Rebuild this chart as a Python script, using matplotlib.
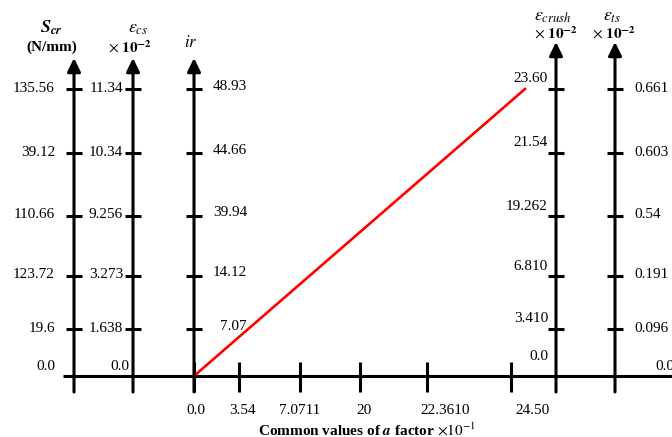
import matplotlib.pyplot as plt

plt.rcParams['font.family'] = 'Liberation Serif'
plt.rcParams['mathtext.fontset'] = 'stix'

# values on each scale, bottom to top
a_ticks = ['0.0', '3.54', '7.0711', '20', '22.3610', '24.50']
s_cr = ['0.0', '19.6', '123.72', '110.66', '39.12', '135.56']
eps_cs = ['0.0', '1.638', '3.273', '9.256', '10.34', '11.34']
ir_vals = ['', '7.07', '14.12', '39.94', '44.66', '48.93']
eps_crush = ['0.0', '3.410', '6.810', '19.262', '21.54', '23.60']
eps_ts = ['0.0', '0.096', '0.191', '0.54', '0.603', '0.661']

# layout (pixel frame of the drawing)
level_y = [376, 329, 276, 216, 153, 89]
base = level_y[0]
x_scr, x_cs, x_ir, x_crush, x_ts = 74, 133, 194, 556, 615
a_tick_x = [194, 239, 300, 360, 427, 511]
a_lab_dx = [2, 3, 0, 4, 18, 21]
red_end_x = 525

fig = plt.figure(figsize=(6.72, 4.37), dpi=100)
ax = fig.add_axes([0, 0, 1, 1])
ax.set_xlim(0, 672)
ax.set_ylim(437, 0)
ax.axis('off')

lw = 2.2
fs = 11

# horizontal axis
ax.plot([63, 672], [base, base], color='k', lw=lw, solid_capstyle='butt')
for x in a_tick_x:
    ax.plot([x, x], [base - 14, base + 16], color='k', lw=lw, solid_capstyle='butt')
for x, dx, t in zip(a_tick_x, a_lab_dx, a_ticks):
    ax.text(x + dx, 410, t, ha='center', va='center', fontsize=fs)

ax.text(367, 430, r'Common values of $\mathbfit{a}$ factor $\times\mathit{10^{-1}}$',
        ha='center', va='center', fontsize=fs, fontweight='bold')


def vaxis(x, top):
    ax.annotate('', xy=(x, top), xytext=(x, base + 16),
                arrowprops=dict(arrowstyle='-|>,head_length=0.45,head_width=0.22',
                                lw=lw, color='k', mutation_scale=18,
                                shrinkA=0, shrinkB=0))
    for y in level_y[1:]:
        ax.plot([x - 8, x + 8], [y, y], color='k', lw=lw, solid_capstyle='butt')


for x in [x_scr, x_cs, x_ir]:
    vaxis(x, 58)
for x in [x_crush, x_ts]:
    vaxis(x, 42)

# labels on the scales
for i, t in enumerate(s_cr):
    y = level_y[i] - (9 if i == 0 else 1)
    ax.text(55, y, t, ha='right', va='center', fontsize=fs)
for i, t in enumerate(eps_cs):
    y = level_y[i] - (9 if i == 0 else 1)
    ax.text(123 if i else 129, y, t, ha='right', va='center', fontsize=fs)
for i, t in enumerate(ir_vals):
    if t:
        ax.text(213 if i > 1 else 220, level_y[i] - 3, t, ha='left', va='center', fontsize=fs)
for i, t in enumerate(eps_crush):
    y = level_y[i] - (20 if i == 0 else 10)
    ax.text(548, y, t, ha='right', va='center', fontsize=fs)
for i, t in enumerate(eps_ts):
    y = level_y[i] - (10 if i == 0 else 1)
    ax.text(655 if i == 0 else 634, y, t, ha='left', va='center', fontsize=fs)

# scale titles
ax.text(51, 28, r'$\mathbfit{S}_{\mathbfit{cr}}$', ha='center', va='center', fontsize=13)
ax.text(52, 47, '(N/mm)', ha='center', va='center', fontsize=fs, fontweight='bold')
ax.text(138, 28, r'$\varepsilon_{cs}$', ha='center', va='center', fontsize=13)
ax.text(130, 47, r'$\times\ \mathbf{10^{-2}}$', ha='center', va='center', fontsize=fs)
ax.text(191, 43, r'$ir$', ha='center', va='center', fontsize=12)
ax.text(553, 16, r'$\varepsilon_{crush}$', ha='center', va='center', fontsize=13)
ax.text(556, 33, r'$\times\ \mathbf{10^{-2}}$', ha='center', va='center', fontsize=fs)
ax.text(612, 16, r'$\varepsilon_{ts}$', ha='center', va='center', fontsize=13)
ax.text(614, 33, r'$\times\ \mathbf{10^{-2}}$', ha='center', va='center', fontsize=fs)

# red relation line
ax.plot([x_ir, red_end_x], [level_y[0], level_y[-1]], color='#ff0000', lw=1.9)

fig.savefig('out.png', dpi=100)
